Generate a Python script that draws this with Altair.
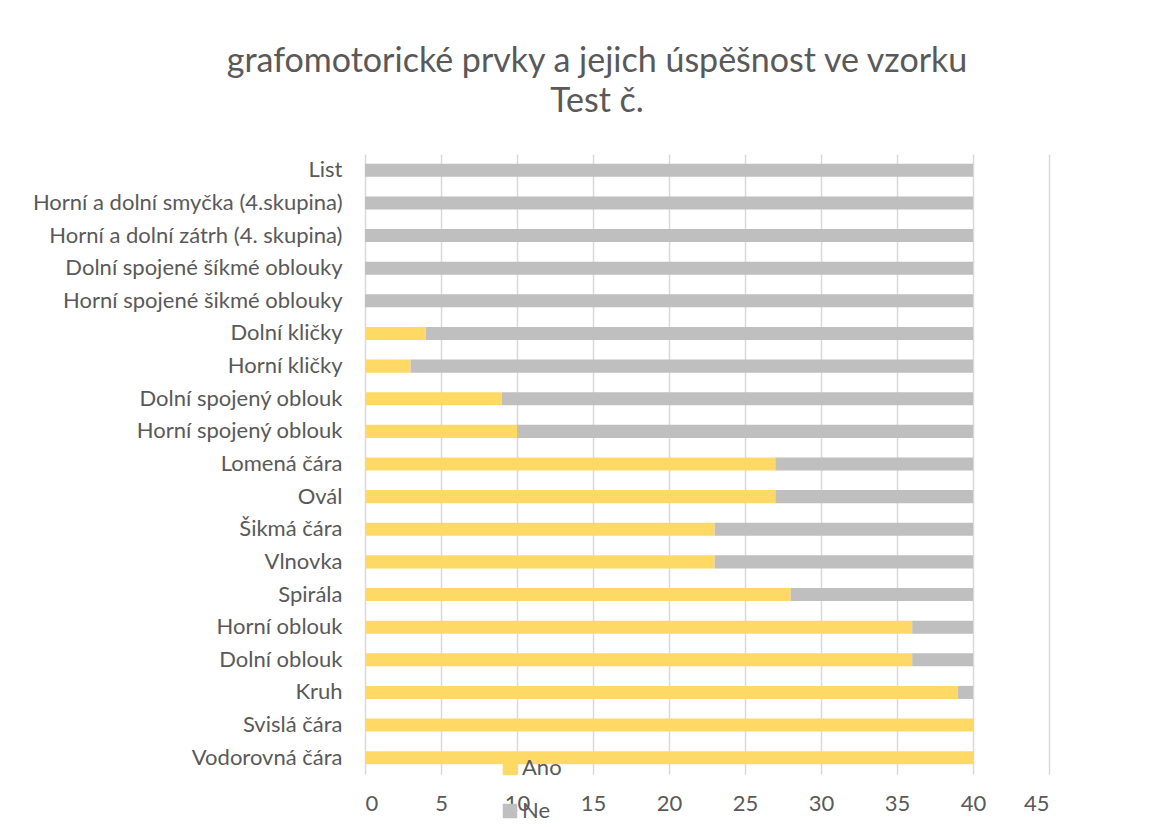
import altair as alt
import pandas as pd

categories = [
    "List",
    "Horní a dolní smyčka (4.skupina)",
    "Horní a dolní zátrh (4. skupina)",
    "Dolní spojené šíkmé oblouky",
    "Horní spojené šikmé oblouky",
    "Dolní kličky",
    "Horní kličky",
    "Dolní spojený oblouk",
    "Horní spojený oblouk",
    "Lomená čára",
    "Ovál",
    "Šikmá čára",
    "Vlnovka",
    "Spirála",
    "Horní oblouk",
    "Dolní oblouk",
    "Kruh",
    "Svislá čára",
    "Vodorovná čára",
]
ano = [0, 0, 0, 0, 0, 4, 3, 9, 10, 27, 27, 23, 23, 28, 36, 36, 39, 40, 40]
ne = [40, 40, 40, 40, 40, 36, 37, 31, 30, 13, 13, 17, 17, 12, 4, 4, 1, 0, 0]
series = ["Ano", "Ne"]
colors = ["#FFD966", "#BFBFBF"]
x_ticks = [0, 5, 10, 15, 20, 25, 30, 35, 40, 45]

rows = []
for c, a, n in zip(categories, ano, ne):
    rows.append({"prvek": c, "serie": "Ano", "hodnota": a, "poradi": 0})
    rows.append({"prvek": c, "serie": "Ne", "hodnota": n, "poradi": 1})
df = pd.DataFrame(rows)

FONT = "Lato"
TXT = "#595959"

chart = (
    alt.Chart(df)
    .mark_bar()
    .encode(
        y=alt.Y(
            "prvek:N",
            sort=categories,
            title=None,
            scale=alt.Scale(paddingInner=0.6, paddingOuter=0.3),
            axis=alt.Axis(
                domain=False,
                ticks=False,
                grid=False,
                labelPadding=23,
                labelFontSize=22,
                labelColor=TXT,
                labelFont=FONT,
                labelLimit=400,
            ),
        ),
        x=alt.X(
            "hodnota:Q",
            stack="zero",
            title=None,
            scale=alt.Scale(domain=[0, 45], nice=False),
            axis=alt.Axis(
                values=x_ticks,
                domain=False,
                ticks=False,
                grid=True,
                gridColor="#D9D9D9",
                gridWidth=1.5,
                labelPadding=19,
                labelFontSize=22,
                labelColor=TXT,
                labelFont=FONT,
            ),
        ),
        color=alt.Color(
            "serie:N",
            scale=alt.Scale(domain=series, range=colors),
            legend=alt.Legend(
                title=None,
                orient="none",
                legendX=134,
                legendY=603,
                direction="vertical",
                symbolType="square",
                symbolSize=210,
                symbolStrokeWidth=0,
                labelFontSize=22,
                labelColor=TXT,
                labelFont=FONT,
                rowPadding=21,
                labelOffset=1,
            ),
        ),
        order=alt.Order("poradi:Q"),
    )
    .properties(
        width=684,
        height=620,
        autosize=alt.AutoSizeParams(type="none"),
        padding={"left": 357, "top": 146, "right": 119, "bottom": 53},
        title=alt.TitleParams(
            text=["grafomotorické prvky a jejich úspěšnost ve vzorku", "Test č."],
            fontSize=34,
            font=FONT,
            fontWeight="normal",
            color=TXT,
            anchor="middle",
            dx=-110,
            offset=35,
            lineHeight=40,
        ),
    )
    .configure_view(stroke=None)
)

chart.save("out.html", embed_options={"renderer": "svg", "actions": False})
